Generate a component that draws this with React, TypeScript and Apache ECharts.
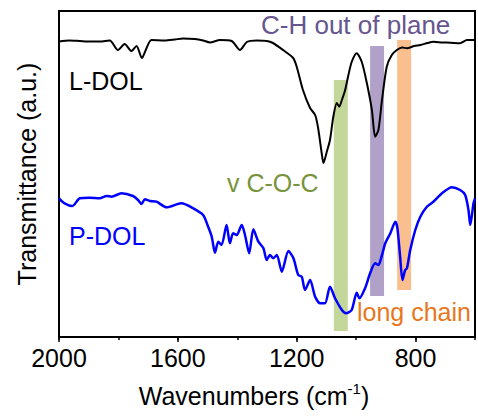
import React, { useEffect, useRef } from "react";
import * as echarts from "echarts";

// FTIR spectra: [wavenumber (cm-1), transmittance (a.u., offset)]
const lDol: [number, number][] = [
  [2000, 295.5], [1965, 296.5], [1930, 296], [1895, 295.5], [1863, 295.5], [1829, 296.5],
  [1802, 287], [1779, 293], [1756, 286], [1739, 291], [1721, 279], [1708, 287],
  [1689, 297], [1644, 296.5], [1610, 297.5], [1583, 298.5], [1543, 298], [1515, 296.5],
  [1492, 294.5], [1458, 297], [1419, 296], [1391, 287], [1368, 295], [1335, 296.5],
  [1301, 296], [1280, 294], [1246, 287], [1212, 279], [1200, 270.3], [1179, 247],
  [1155, 229], [1138, 222], [1128, 209], [1116, 184], [1110, 174], [1099, 185],
  [1088, 197], [1077, 220], [1065, 234], [1057, 230.3], [1048, 237], [1037, 247],
  [1026, 262], [1015, 275], [998, 283.7], [981, 275], [964, 254], [947, 227],
  [936, 200.3], [925, 207], [913, 237], [897, 270.3], [880, 282], [863, 287],
  [845, 289.5], [829, 288.7], [805, 291], [784, 292], [760, 294], [740, 295.3],
  [710, 294.5], [683, 294.3], [650, 293.7], [627, 297], [600, 297],
];

const pDol: [number, number][] = [
  [2000, 138.7], [1981, 133.7], [1955, 131], [1930, 138.7], [1897, 139.3], [1863, 138.7],
  [1840, 141], [1823, 140.3], [1790, 143.7], [1751, 141], [1734, 137], [1722, 133],
  [1711, 137.7], [1694, 136], [1672, 135.3], [1638, 129.7], [1588, 133.7], [1548, 128.7],
  [1515, 122], [1498, 110.3], [1486, 100.3], [1475, 84.3], [1464, 95.3], [1453, 92],
  [1436, 112], [1425, 93.7], [1414, 103.7], [1402, 102], [1385, 112], [1374, 102],
  [1360, 83.7], [1346, 107.7], [1329, 95.3], [1312, 88.7], [1301, 77], [1290, 82],
  [1279, 78.7], [1267, 82], [1250, 65.3], [1228, 86], [1211, 78.7], [1195, 62],
  [1183, 60.3], [1172, 47], [1155, 57], [1138, 40.3], [1121, 33.7], [1105, 33.7],
  [1088, 50.3], [1071, 38.7], [1048, 27], [1034, 23.7], [1015, 27], [998, 44.3],
  [989, 38.7], [970, 48.7], [953, 63.7], [936, 73.7], [925, 72], [913, 82],
  [902, 93.7], [885, 103.7], [868, 115.3], [861, 108.7], [852, 80.3], [844, 57],
  [835, 67], [829, 68.7], [818, 87], [801, 107], [784, 120.3], [762, 130.3],
  [740, 135.3], [711, 143.7], [678, 149.7], [650, 147], [633, 142], [622, 127],
  [616, 112], [605, 133.7], [600, 138.7],
];

// Highlighted absorption bands: [high wn, low wn, bottom, top]
const bandCOC = [1075, 1028, 6, 257];
const bandCH = [953, 906, 41, 291];
const bandChain = [862, 815, 47, 297];

const majorTicks = [800, 1200, 1600, 2000];

const FONT = "'Liberation Sans', Arial, sans-serif";

function bandArea(b: number[], color: string) {
  return [
    { xAxis: b[0], yAxis: b[3], itemStyle: { color } },
    { xAxis: b[1], yAxis: b[2] },
  ];
}

export default function App() {
  const ref = useRef<HTMLDivElement>(null);

  useEffect(() => {
    if (!ref.current) return;
    const chart = echarts.init(ref.current, null, { renderer: "svg" });
    chart.setOption({
      animation: false,
      backgroundColor: "#fff",
      grid: {
        left: 59,
        right: 2,
        top: 11,
        bottom: 79,
        show: true,
        borderColor: "#000",
        borderWidth: 2,
      },
      xAxis: [
        {
          type: "value",
          min: 600,
          max: 2000,
          interval: 200,
          inverse: true,
          position: "bottom",
          axisLine: { show: true, lineStyle: { color: "#000", width: 2 } },
          axisTick: { show: true, length: 3, lineStyle: { color: "#000", width: 1.5 } },
          splitLine: { show: false },
          axisLabel: {
            showMinLabel: true,
            showMaxLabel: true,
            margin: 8,
            color: "#000",
            fontSize: 25,
            fontFamily: FONT,
            formatter: (v: number) => (v % 400 === 0 ? String(v) : ""),
          },
          name: "Wavenumbers (cm{sup|-1})",
          nameLocation: "middle",
          nameGap: 44,
          nameTextStyle: {
            color: "#000",
            fontSize: 25,
            fontFamily: FONT,
            lineHeight: 30,
            padding: [0, 26, 0, 0],
            rich: {
              sup: {
                fontSize: 15,
                fontFamily: FONT,
                color: "#000",
                lineHeight: 14,
                verticalAlign: "top",
              },
            },
          },
        },
        {
          type: "value",
          min: 600,
          max: 2000,
          inverse: true,
          position: "bottom",
          axisLine: { show: false },
          axisTick: {
            show: true,
            length: 5,
            customValues: majorTicks,
            lineStyle: { color: "#000", width: 1.5 },
          },
          axisLabel: { show: false },
          splitLine: { show: false },
        },
      ],
      yAxis: {
        type: "value",
        min: 0,
        max: 326,
        axisLine: { show: true, lineStyle: { color: "#000", width: 2 } },
        axisTick: { show: false },
        axisLabel: { show: false },
        splitLine: { show: false },
        name: "Transmittance (a.u.)",
        nameLocation: "middle",
        nameGap: 20,
        nameTextStyle: { color: "#000", fontSize: 25, fontFamily: FONT },
      },
      series: [
        {
          name: "bands",
          type: "line",
          data: [],
          z: 1,
          silent: true,
          markArea: {
            silent: true,
            data: [
              bandArea(bandCOC, "#C4D79B"),
              bandArea(bandCH, "#B1A0C7"),
              bandArea(bandChain, "#FABF8F"),
            ],
          },
        },
        {
          name: "L-DOL",
          type: "line",
          data: lDol,
          z: 3,
          symbol: "none",
          smooth: 0.25,
          lineStyle: { color: "#000", width: 2 },
        },
        {
          name: "P-DOL",
          type: "line",
          data: pDol,
          z: 3,
          symbol: "none",
          smooth: 0.25,
          lineStyle: { color: "#0000FF", width: 2.5 },
        },
      ],
      graphic: [
        {
          type: "text",
          left: 69,
          top: 68,
          style: { text: "L-DOL", fill: "#000", font: `25px ${FONT}` },
        },
        {
          type: "text",
          left: 69,
          top: 223,
          style: { text: "P-DOL", fill: "#0000FF", font: `25px ${FONT}` },
        },
        {
          type: "text",
          left: 261,
          top: 12,
          style: { text: "C-H out of plane", fill: "#66558F", font: `26px ${FONT}` },
        },
        {
          type: "text",
          left: 227,
          top: 170,
          style: { text: "v C-O-C", fill: "#77933C", font: `25px ${FONT}` },
        },
        {
          type: "text",
          left: 357,
          top: 299,
          style: { text: "long chain", fill: "#E8771E", font: `25px ${FONT}` },
        },
      ],
    });
    return () => chart.dispose();
  }, []);

  return (
    <div
      ref={ref}
      style={{ position: "fixed", left: 0, top: 0, width: 478, height: 416 }}
    />
  );
}
